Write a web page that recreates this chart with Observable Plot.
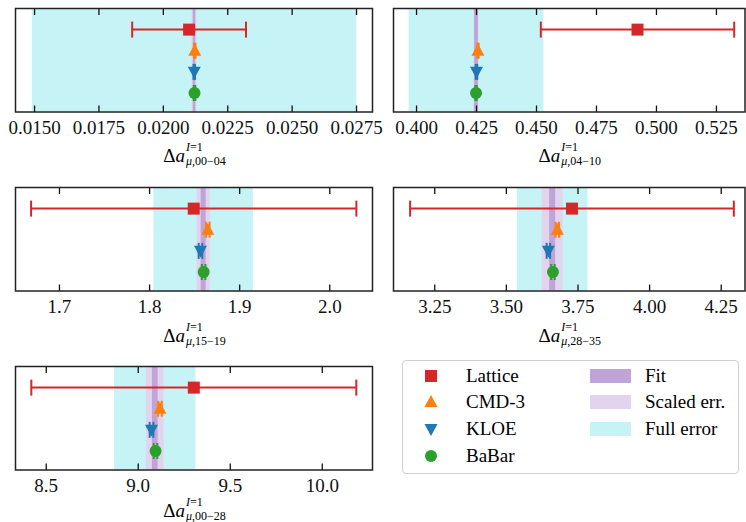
<!DOCTYPE html>
<html><head><meta charset="utf-8">
<script src="https://cdn.jsdelivr.net/npm/d3@7"></script>
<script src="https://cdn.jsdelivr.net/npm/@observablehq/plot@0.6"></script>
<style>
html,body{margin:0;padding:0;background:#fff;}
#root{position:relative;width:746px;height:522px;overflow:hidden;color:#000;font-family:"Liberation Serif","DejaVu Serif",serif;}
.panel{position:absolute;}
.panel svg{overflow:visible;}
.lab{position:absolute;white-space:nowrap;font-size:19px;line-height:19px;transform:translateX(-50%);}
.ss{display:inline-block;vertical-align:-3px;font-size:12px;line-height:13.5px;margin-left:1px;}
.ss span{display:block;}
.legend{position:absolute;left:402px;top:360px;width:335px;height:112px;border:1px solid #cfcfcf;border-radius:4px;font-size:19px;}
.legend .t{position:absolute;line-height:20px;white-space:nowrap;}
.legend svg{position:absolute;}
</style></head>
<body><div id="root"></div>
<script>
const serif = '"Liberation Serif","DejaVu Serif",serif';

// ---------- data ----------
const panelNames = ["00\u221204", "04\u221210", "15\u221219", "28\u221235", "00\u221228"];
const experiments = ["Lattice", "CMD-3", "KLOE", "BaBar"];
const expColors = ["#d62728", "#ff7f0e", "#1f77b4", "#2ca02c"];
const expRow = [3, 2, 1, 0];

const latticeValue = [0.02100, 0.4921, 1.849, 3.729, 9.302];
const latticeError = [0.00221, 0.0403, 0.1805, 0.565, 0.883];
const cmd3Value   = [0.02122, 0.4256, 1.8646, 3.678, 9.118];
const cmd3Error   = [0.00003, 0.0003, 0.002, 0.006, 0.010];
const kloeValue   = [0.02120, 0.4250, 1.8565, 3.6466, 9.072];
const kloeError   = [0.00003, 0.0003, 0.002, 0.006, 0.010];
const babarValue  = [0.02121, 0.4248, 1.8600, 3.6626, 9.094];
const babarError  = [0.00003, 0.0003, 0.002, 0.006, 0.010];

const fitValue    = [0.02121, 0.4250, 1.8600, 3.6616, 9.0925];
const fitError    = [0.00005, 0.0008, 0.0028, 0.0105, 0.0155];
const scaledError = [0.00009, 0.0010, 0.0074, 0.0366, 0.048];
const fullError   = [0.0063, 0.0281, 0.0552, 0.1232, 0.221];

const xDomains = [[0.01426, 0.02812], [0.3904, 0.5369], [1.6512, 2.0474], [3.106, 4.333], [8.333, 10.273]];
const xTicks = [
  [0.0150, 0.0175, 0.0200, 0.0225, 0.0250, 0.0275],
  [0.400, 0.425, 0.450, 0.475, 0.500, 0.525],
  [1.7, 1.8, 1.9, 2.0],
  [3.25, 3.50, 3.75, 4.00, 4.25],
  [8.5, 9.0, 9.5, 10.0]
];
const tickDecimals = [4, 3, 1, 2, 1];

const bandLabels = ["Fit", "Scaled err.", "Full error"];
const bandColors = ["#c0a4d8", "#e2d4ee", "#c6f3f6"];

// ---------- layout (frame boxes, px) ----------
const frames = [
  {l: 15, r: 372, t: 7.5, b: 111, labTop: 141},
  {l: 393, r: 744.5, t: 7.5, b: 111, labTop: 141},
  {l: 15, r: 372, t: 187, b: 290.5, labTop: 321},
  {l: 393, r: 744.5, t: 187, b: 290.5, labTop: 321},
  {l: 15, r: 372, t: 365.5, b: 469, labTop: 496}
];

// ---------- symbols ----------
const symSquare = {draw(c){c.moveTo(-6,-6);c.lineTo(6,-6);c.lineTo(6,6);c.lineTo(-6,6);c.closePath();}};
const symUp = {draw(c){c.moveTo(0,-7);c.lineTo(6.5,5);c.lineTo(-6.5,5);c.closePath();}};
const symDown = {draw(c){c.moveTo(0,7);c.lineTo(6.5,-5);c.lineTo(-6.5,-5);c.closePath();}};
const symCircle = {draw(c){c.moveTo(6,0);c.arc(0,0,6,0,2*Math.PI);c.closePath();}};
const symCap = {draw(c){c.moveTo(0,-8);c.lineTo(0,8);}};
const symTickDown = {draw(c){c.moveTo(0,0);c.lineTo(0,6.5);}};
const symTickUp = {draw(c){c.moveTo(0,0);c.lineTo(0,-6.5);}};
const expSymbols = [symSquare, symUp, symDown, symCircle];

const values = [latticeValue, cmd3Value, kloeValue, babarValue];
const errors = [latticeError, cmd3Error, kloeError, babarError];

const root = document.getElementById("root");
const mL = 12, mT = 4, mB = 34;

panelNames.forEach((name, i) => {
  const f = frames[i];
  const mR = f.r > 700 ? 1.5 : 14;
  const W = (f.r - f.l) + mL + mR;
  const H = (f.b - f.t) + mT + mB;
  const rows = experiments.map((e, j) => ({name: e, row: expRow[j], value: values[j][i], err: errors[j][i], color: expColors[j], j}));
  const caps = rows.flatMap(d => [{...d, x: d.value - d.err}, {...d, x: d.value + d.err}]);
  const bands = [
    {lo: fitValue[i] - fullError[i], hi: fitValue[i] + fullError[i], fill: bandColors[2]},
    {lo: fitValue[i] - scaledError[i], hi: fitValue[i] + scaledError[i], fill: bandColors[1]},
    {lo: fitValue[i] - fitError[i], hi: fitValue[i] + fitError[i], fill: bandColors[0]}
  ];
  const marks = [
    ...bands.map(b => Plot.rect([b], {x1: "lo", x2: "hi", fill: "fill"})),
    Plot.ruleY(rows, {y: "row", x1: d => d.value - d.err, x2: d => d.value + d.err, stroke: "color", strokeWidth: 2}),
    Plot.dot(caps, {x: "x", y: "row", symbol: symCap, r: 3, fill: "none", stroke: "color", strokeWidth: 2}),
    ...rows.map(d => Plot.dot([d], {x: "value", y: "row", symbol: expSymbols[d.j], r: 3, fill: "color", stroke: "none"})),
    Plot.dot(xTicks[i], {x: d => d, frameAnchor: "top", symbol: symTickDown, r: 3, fill: "none", stroke: "#111", strokeWidth: 1.3}),
    Plot.dot(xTicks[i], {x: d => d, frameAnchor: "bottom", symbol: symTickUp, r: 3, fill: "none", stroke: "#111", strokeWidth: 1.3}),
    Plot.axisX({ticks: xTicks[i], tickSize: 0, tickPadding: 8, tickFormat: d => d.toFixed(tickDecimals[i]), fill: "#111"}),
    Plot.frame({stroke: "#222", strokeWidth: 1.5})
  ];
  const chart = Plot.plot({
    width: W, height: H,
    marginLeft: mL, marginRight: mR, marginTop: mT, marginBottom: mB,
    x: {domain: xDomains[i]},
    y: {domain: [-0.9, 4.0], axis: null},
    color: {type: "identity"},
    style: {fontFamily: serif, fontSize: "19px", color: "#111", background: "transparent", overflow: "visible"},
    marks
  });
  const wrap = document.createElement("div");
  wrap.className = "panel";
  wrap.style.left = (f.l - mL) + "px";
  wrap.style.top = (f.t - mT) + "px";
  wrap.appendChild(chart);
  root.appendChild(wrap);

  const lab = document.createElement("div");
  lab.className = "lab";
  lab.style.left = ((f.l + f.r) / 2 + 1) + "px";
  lab.style.top = f.labTop + "px";
  lab.innerHTML = `\u0394<i>a</i><span class="ss"><span><i>I</i>=1</span><span><i>\u03bc</i>,${name}</span></span>`;
  root.appendChild(lab);
});

// ---------- legend ----------
const legend = document.createElement("div");
legend.className = "legend";
const rowY = [14.7, 41.3, 68, 94.7];
const ns = "http://www.w3.org/2000/svg";
experiments.forEach((e, j) => {
  const s = document.createElementNS(ns, "svg");
  s.setAttribute("width", 20); s.setAttribute("height", 20);
  s.style.left = (28 - 10) + "px"; s.style.top = (rowY[j] - 10) + "px";
  const p = document.createElementNS(ns, "path");
  p.setAttribute("d", d3.symbol(expSymbols[j])());
  p.setAttribute("transform", "translate(10,10)");
  p.setAttribute("fill", expColors[j]);
  s.appendChild(p);
  legend.appendChild(s);
  const t = document.createElement("div");
  t.className = "t"; t.textContent = e;
  t.style.left = "63px"; t.style.top = (rowY[j] - 10) + "px";
  legend.appendChild(t);
});
bandLabels.forEach((b, k) => {
  const sw = document.createElement("div");
  sw.style.cssText = `position:absolute;left:187px;width:41px;height:14px;top:${rowY[k]-7}px;background:${bandColors[k]};`;
  legend.appendChild(sw);
  const t = document.createElement("div");
  t.className = "t"; t.textContent = b;
  t.style.left = "242px"; t.style.top = (rowY[k] - 10) + "px";
  legend.appendChild(t);
});
root.appendChild(legend);
</script>
</body></html>
